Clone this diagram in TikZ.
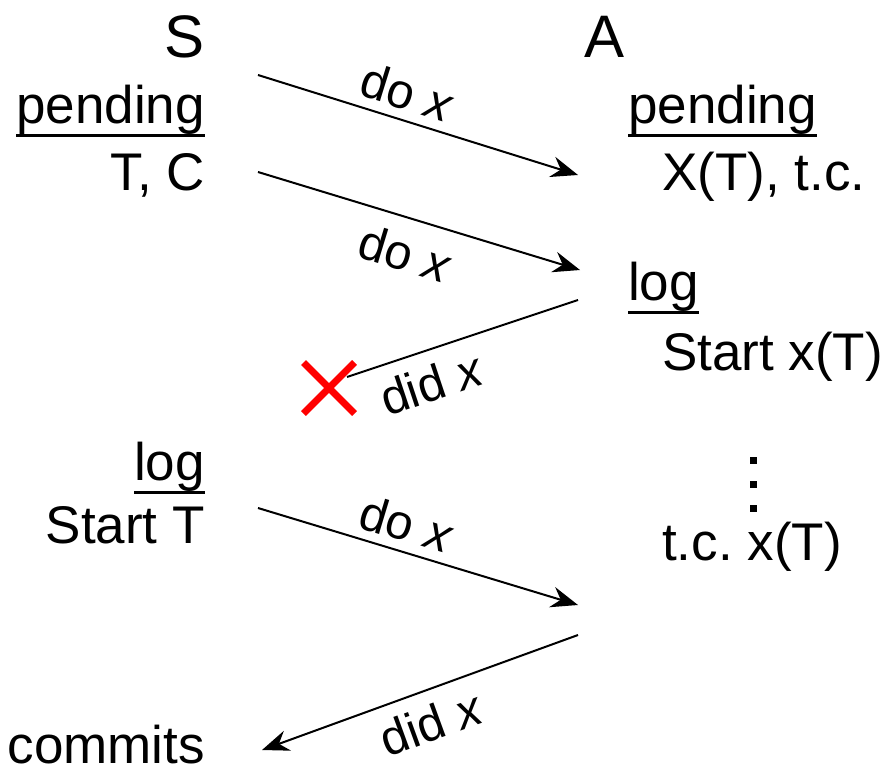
\documentclass[tikz,border=0pt]{standalone}
\usepackage{fontspec}
\setmainfont{Liberation Sans}
\usepackage{tikz}
\usetikzlibrary{arrows.meta, shapes.misc}

\newcommand{\ulined}[1]{\setbox0\hbox{#1}\rlap{\rule[-14pt]{\wd0}{3pt}}\box0}

\begin{document}
\frenchspacing
\begin{tikzpicture}[x = 1pt, y = -1pt,
    head/.style = {inner sep = 0pt, font = \fontsize{60}{66}\selectfont},
    txt/.style = {inner sep = 0pt, font = \fontsize{53}{60}\selectfont},
    lbl/.style = {inner sep = 0pt, font = \fontsize{49}{54}\selectfont},
    msg/.style = {line width = 2pt, -{Stealth[length = 27pt, width = 21pt, inset = 9pt]}}]
  \useasboundingbox (0, 0) rectangle (885, 776);
  % the two sides
  \node[head, anchor = base east] (S) at (205, 57) {S};
  \node[head, anchor = base west] (A) at (584, 57) {A};
  % left column
  \node[txt, anchor = base east] (spending) at (205, 123) {\ulined{pending}};
  \node[txt, anchor = base east] (stc) at (205, 190) {T, C};
  \node[txt, anchor = base east] (slog) at (205, 480) {\ulined{log}};
  \node[txt, anchor = base east] (sstart) at (205, 543) {Start T};
  \node[txt, anchor = base east] (scommit) at (205, 763) {commits};
  % right column
  \node[txt, anchor = base west] (apending) at (628, 123) {\ulined{pending}};
  \node[txt, anchor = base west] (axt) at (662, 190) {X(T), t.c.};
  \node[txt, anchor = base west] (alog) at (628, 300) {\ulined{log}};
  \node[txt, anchor = base west] (astart) at (662, 370) {Start x(T)};
  \node[txt, anchor = base west] (atc) at (662, 560) {t.c. x(T)};
  \foreach \y in {460, 484, 508}
    \fill (749.5, \y-3.5) rectangle ++(7, 7);
  % lost reply
  \node[draw = red, cross out, line width = 7pt, minimum size = 44pt, inner sep = 0pt] (lost) at (329, 388) {};
  % message ends
  \coordinate (s1) at (258, 75);  \coordinate (a1) at (578, 175);
  \coordinate (s2) at (258, 172); \coordinate (a2) at (580, 270);
  \coordinate (a3) at (578, 300); \coordinate (x3) at (347, 377);
  \coordinate (s4) at (258, 508); \coordinate (a4) at (578, 605);
  \coordinate (a5) at (578, 635); \coordinate (s5) at (262, 750);
  % messages
  \draw[msg] (s1) -- node[lbl, pos = .44, sloped, above = 9pt] {do \textit{x}} (a1);
  \draw[msg] (s2) -- node[lbl, pos = .49, sloped, below = 16pt] {do \textit{x}} (a2);
  \draw[line width = 2pt] (a3) -- node[lbl, pos = .68, sloped, below = 14pt] {did \textit{x}} (x3);
  \draw[msg] (s4) -- node[lbl, pos = .44, sloped, above = 9pt] {do \textit{x}} (a4);
  \draw[msg] (a5) -- node[lbl, pos = .5, sloped, below = 14pt] {did \textit{x}} (s5);
\end{tikzpicture}
\end{document}
